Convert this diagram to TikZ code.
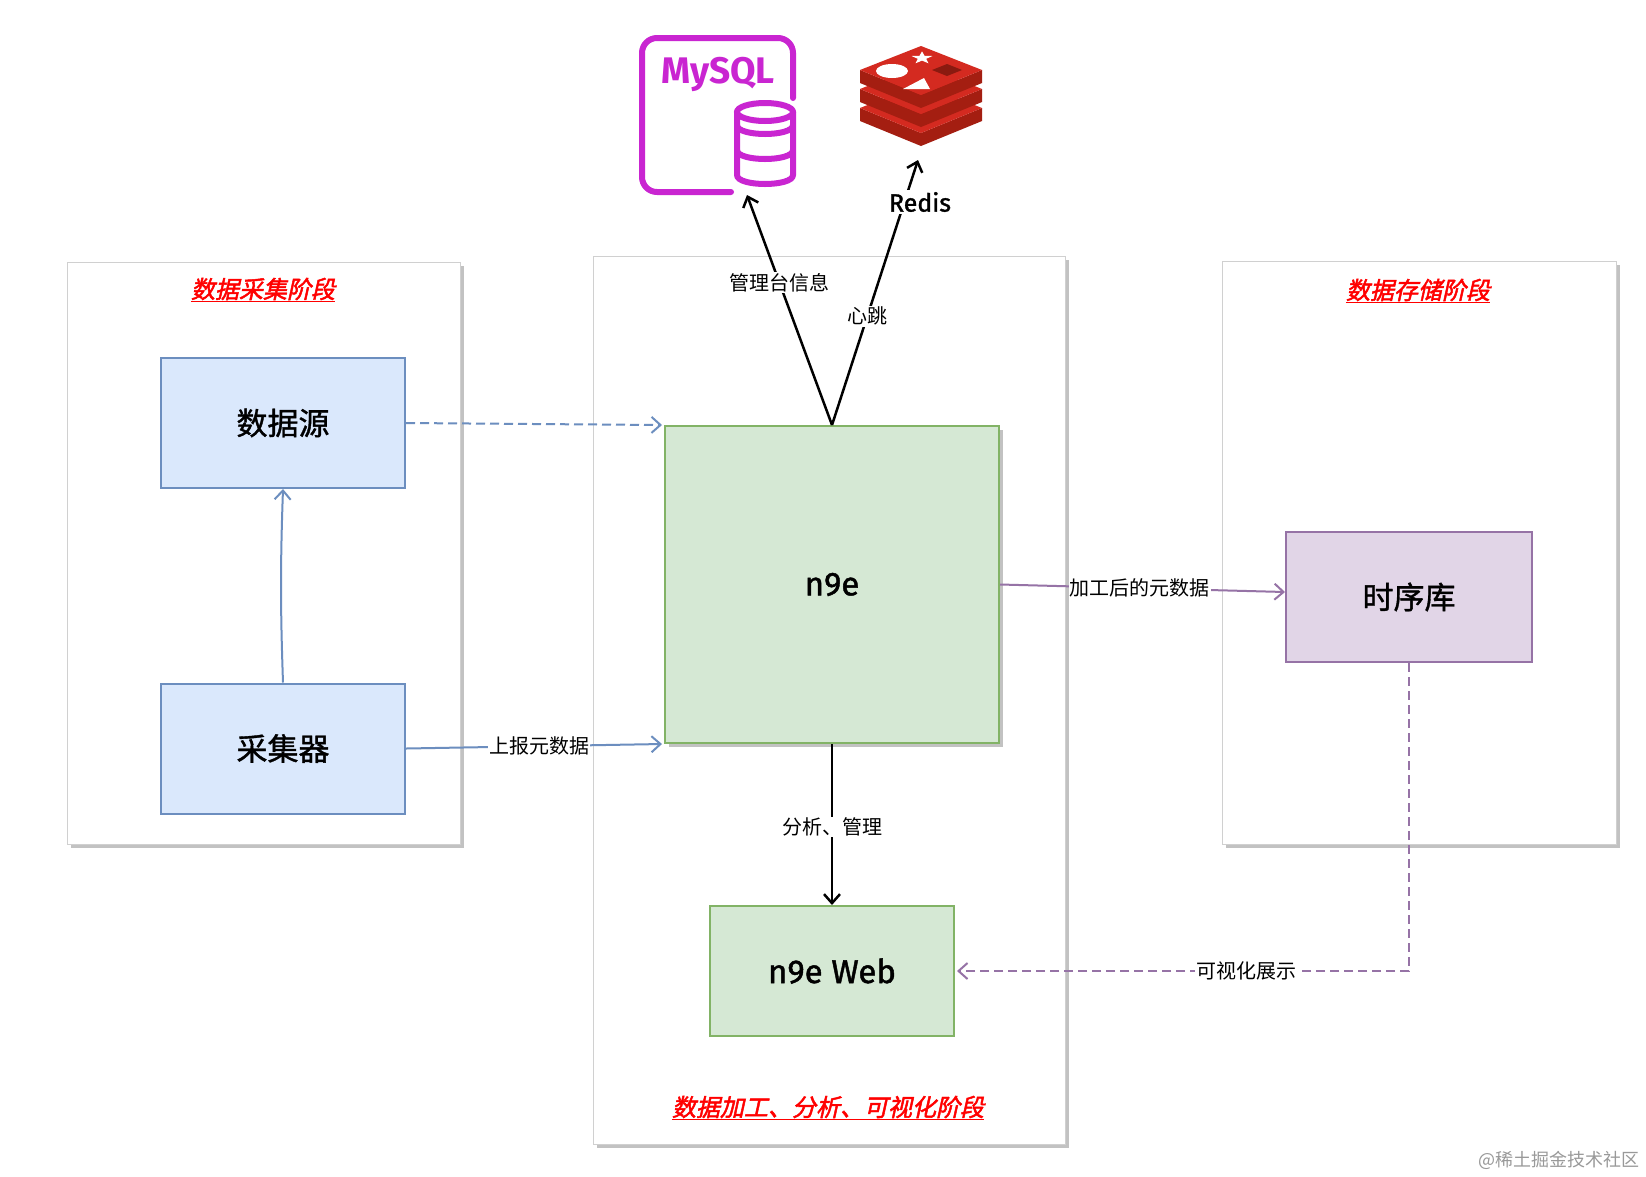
\documentclass[tikz,border=0pt]{standalone}
\usepackage{fontspec}
\usetikzlibrary{arrows.meta,calc,shadows}
\newfontfamily\cjk{Noto Sans CJK SC}
\newfontfamily\cjkbox{Noto Sans CJK SC}[FakeBold=1.2]
\newfontfamily\cjktitle{Noto Sans CJK SC}[FakeSlant=0.22,FakeBold=2]
\newfontfamily\hand{Fira Sans}
\newfontfamily\handm{Fira Sans}[FakeBold=1.4]
\definecolor{bluef}{HTML}{DAE8FC}
\definecolor{blued}{HTML}{6C8EBF}
\definecolor{greenf}{HTML}{D5E8D4}
\definecolor{greend}{HTML}{82B366}
\definecolor{purf}{HTML}{E1D5E7}
\definecolor{purd}{HTML}{9673A6}
\definecolor{panelb}{HTML}{D0D0D0}
\definecolor{shadowc}{HTML}{C2C2C2}
\definecolor{mysqlc}{HTML}{C925D1}
\definecolor{redistop}{HTML}{D42A20}
\definecolor{redisside}{HTML}{A41E11}
\definecolor{redisdot}{HTML}{8A1A10}
\definecolor{titlered}{HTML}{FF0000}
\tikzset{
  shadowed/.style={drop shadow={shadow xshift=4pt,shadow yshift=-4pt,fill=shadowc,opacity=1}},
  panel/.style={draw=panelb,fill=white,line width=1pt,inner sep=0pt},
  boxlabel/.style={font=\cjkbox\fontsize{31}{36}\selectfont,inner sep=0pt,line width=2pt},
  bluebox/.style={boxlabel,draw=blued,fill=bluef,minimum width=244pt,minimum height=130pt},
  greenbox/.style={draw=greend,fill=greenf,line width=2pt,inner sep=0pt,font=\handm\fontsize{33}{38}\selectfont},
  purbox/.style={boxlabel,draw=purd,fill=purf,minimum width=246pt,minimum height=130pt},
  ttl/.style={font=\cjktitle\fontsize{24}{28}\selectfont,text=titlered,inner sep=0pt},
  ttlline/.style={draw=titlered,line width=1.5pt},
  lbl/.style={fill=white,inner sep=1pt,font=\cjk\fontsize{20}{23}\selectfont},
  tip/.style={-{Straight Barb[length=9pt,width=16pt]}},
  blackarrow/.style={tip,draw=black,line width=2.5pt},
  bluearrow/.style={tip,draw=blued,line width=2pt},
  purarrow/.style={tip,draw=purd,line width=2pt},
  dashpat/.style={dash pattern=on 9pt off 5pt},
}
\begin{document}
\begin{tikzpicture}[x=1pt,y=-1pt]
\useasboundingbox[fill=white] (0,0) rectangle (1646,1176);

% stage panels
\node[panel,shadowed,minimum width=393pt,minimum height=582pt] (pleft) at (263.5,553) {};
\node[panel,shadowed,minimum width=472pt,minimum height=888pt] (pmid) at (829,700) {};
\node[panel,shadowed,minimum width=394pt,minimum height=583pt] (pright) at (1419,552.5) {};

% titles
\node[ttl] (t1) at (263,289) {数据采集阶段};
\draw[ttlline] ([yshift=-1pt]t1.south west) -- ([yshift=-1pt]t1.south east);
\node[ttl] (t2) at (1418,290) {数据存储阶段};
\draw[ttlline] ([yshift=-1pt]t2.south west) -- ([yshift=-1pt]t2.south east);
\node[ttl] (t3) at (828,1107) {数据加工、分析、可视化阶段};
\draw[ttlline] ([yshift=-1pt]t3.south west) -- ([yshift=-1pt]t3.south east);

% boxes
\node[bluebox] (src) at (283,423) {数据源};
\node[bluebox] (col) at (283,748.5) {采集器};
\node[greenbox,shadowed,minimum width=334pt,minimum height=317pt] (n9e) at (832,584.5) {n9e};
\node[greenbox,minimum width=244pt,minimum height=130pt] (web) at (832,971) {n9e Web};
\node[purbox] (tsdb) at (1409,597) {时序库};

% MySQL icon
\begin{scope}[draw=mysqlc,line width=6pt,line cap=round]
  \draw[rounded corners=15pt] (731,192) -- (642,192) -- (642,38) -- (793,38) -- (793,98);
  \draw (765,112) ellipse [x radius=28,y radius=9];
  \draw (737,112) -- (737,175) .. controls (737,187) and (793,187) .. (793,175) -- (793,112);
  \draw (737,125) .. controls (737,137) and (793,137) .. (793,125);
  \draw (737,150) .. controls (737,162) and (793,162) .. (793,150);
\end{scope}
\node[font=\hand\bfseries\fontsize{37}{40}\selectfont,text=mysqlc,inner sep=0pt] (mysqltxt) at (718,74) {MySQL};

% Redis icon
\foreach \dy in {38,19,0}{
  \fill[redisside] (860,70+\dy) -- (921,95+\dy) -- (982,70+\dy) -- (982,83+\dy) -- (921,108+\dy) -- (860,83+\dy) -- cycle;
  \fill[redistop] (921,46+\dy) -- (982,70+\dy) -- (921,95+\dy) -- (860,70+\dy) -- cycle;
}
\fill[white] (922,51.4) -- (924.6,55.9) -- (932.5,56.0) -- (926.2,58.8) -- (928.5,63.3) -- (922,60.6) -- (915.5,63.3) -- (917.8,58.8) -- (911.5,56.0) -- (919.4,55.9) -- cycle;
\fill[white] (892,71) ellipse [x radius=16,y radius=7];
\fill[white] (903,89) -- (924,78) -- (930,89) -- cycle;
\fill[redisdot] (932,70) -- (947,64) -- (962,70) -- (947,76) -- cycle;

% connector end points at the icons
\coordinate (mysqlin) at (747,195);
\coordinate (redisin) at (918,160);

% connectors
\draw[bluearrow,dashpat] (src.east) -- ([xshift=-2pt]n9e.north west);
\draw[bluearrow] (col.east) -- node[lbl,pos=0.52] {上报元数据} ([xshift=-2pt]n9e.south west);
\draw[bluearrow] (col.north) to[bend left=2] (src.south);
\draw[purarrow] (n9e.east) -- node[lbl,pos=0.49] {加工后的元数据} ([yshift=5pt]tsdb.west);
\draw[purarrow,dashpat] (tsdb.south) -- (tsdb.south |- web.east) -- node[lbl,pos=0.36] {可视化展示} ([xshift=2pt]web.east);
\draw[blackarrow] (n9e.south) -- node[lbl,pos=0.515] {分析、管理} (web.north);
\draw[blackarrow] (n9e.north) -- node[lbl,pos=0.62] {管理台信息} (mysqlin);
\draw[blackarrow] (n9e.north) -- node[lbl,pos=0.41] {心跳} (redisin);
\node[fill=white,inner sep=2pt,font=\handm\fontsize{25}{28}\selectfont] (redislbl) at (920,202) {Redis};

% watermark
\node[font=\cjk\fontsize{18}{20}\selectfont,text=black!40,inner sep=0pt] (wm) at (1559,1160) {@稀土掘金技术社区};
\end{tikzpicture}
\end{document}
